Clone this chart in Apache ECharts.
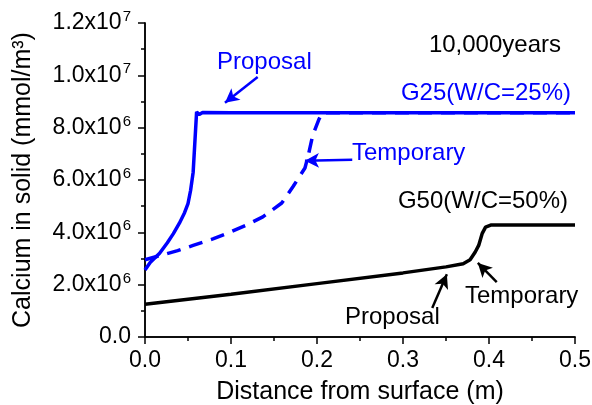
<!DOCTYPE html>
<html>
<head>
<meta charset="utf-8">
<script src="https://cdn.jsdelivr.net/npm/echarts@6/dist/echarts.min.js"></script>
<style>
  html, body { margin: 0; padding: 0; background: #fff; }
  #chart { width: 592px; height: 405px; }
</style>
</head>
<body>
<div id="chart"></div>
<script>
// distance (m), calcium in solid (mmol/m3)
var g25ProposalX = [0, 0.006, 0.017, 0.026, 0.033, 0.04, 0.046, 0.05, 0.053, 0.056, 0.06, 0.063, 0.067, 0.1, 0.3, 0.5];
var g25ProposalY = [2.56e6, 2.85e6, 3.2e6, 3.6e6, 3.95e6, 4.35e6, 4.75e6, 5.1e6, 5.6e6, 6.3e6, 8.6e6, 8.5e6, 8.58e6, 8.57e6, 8.57e6, 8.57e6];

var g25TempX = [0, 0.038, 0.056, 0.079, 0.097, 0.118, 0.137, 0.159, 0.172, 0.186, 0.19, 0.195, 0.202, 0.206, 0.3, 0.5];
var g25TempY = [2.95e6, 3.3e6, 3.5e6, 3.75e6, 3.98e6, 4.28e6, 4.59e6, 5.12e6, 5.74e6, 6.46e6, 6.96e6, 7.7e6, 8.3e6, 8.57e6, 8.57e6, 8.57e6];

var g50X = [0, 0.1, 0.2, 0.3, 0.35, 0.37, 0.378, 0.384, 0.388, 0.392, 0.396, 0.402, 0.42, 0.5];
var g50Y = [1.25e6, 1.63e6, 2.04e6, 2.45e6, 2.68e6, 2.8e6, 2.95e6, 3.25e6, 3.5e6, 3.95e6, 4.2e6, 4.28e6, 4.28e6, 4.28e6];

var yTicks = ['0.0', '2.0x10{s|6}', '4.0x10{s|6}', '6.0x10{s|6}', '8.0x10{s|6}', '1.0x10{s|7}', '1.2x10{s|7}'];
var xTicks = ['0.0', '0.1', '0.2', '0.3', '0.4', '0.5'];

function pairs(xs, ys) {
  return xs.map(function (x, i) { return [x, ys[i]]; });
}

var FONT = 'Arial, "Liberation Sans", sans-serif';
var BLUE = '#0000ff';

var chart = echarts.init(document.getElementById('chart'));

var option = {
  backgroundColor: '#fff',
  animation: false,
  grid: { left: 145, right: 17, top: 23, bottom: 68, containLabel: false, outerBoundsMode: 'none' },
  xAxis: [{
    type: 'value', min: 0, max: 0.5, interval: 0.1,
    name: 'Distance from surface (m)', nameLocation: 'middle', nameGap: 43,
    nameTextStyle: { fontFamily: FONT, fontSize: 25, color: '#000' },
    axisLine: { lineStyle: { color: '#000', width: 1.5 } },
    axisTick: { inside: false, length: 7, lineStyle: { color: '#000', width: 1.5 } },
    minorTick: { show: true, splitNumber: 2, length: 4, lineStyle: { color: '#000', width: 1.5 } },
    splitLine: { show: false },
    axisLabel: {
      margin: 12, fontFamily: FONT, fontSize: 23, color: '#000',
      formatter: function (v) { return xTicks[Math.round(v * 10)]; }
    }
  }, {
    type: 'value', min: 0, max: 0.5, interval: 0.1, position: 'top',
    axisLine: { show: true, lineStyle: { color: '#000', width: 1.5 } },
    axisTick: { inside: true, length: 7, lineStyle: { color: '#000', width: 1.5 } },
    minorTick: { show: true, splitNumber: 2, length: 4, lineStyle: { color: '#000', width: 1.5 } },
    splitLine: { show: false },
    axisLabel: { show: false }
  }],
  yAxis: [{
    type: 'value', min: 0, max: 1.2e7, interval: 2e6,
    name: 'Calcium in solid (mmol/m\u00b3)', nameLocation: 'middle', nameGap: 109,
    nameTextStyle: { fontFamily: FONT, fontSize: 25, color: '#000' },
    axisLine: { lineStyle: { color: '#000', width: 1.5 } },
    axisTick: { inside: false, length: 7, lineStyle: { color: '#000', width: 1.5 } },
    minorTick: { show: true, splitNumber: 2, length: 4, lineStyle: { color: '#000', width: 1.5 } },
    splitLine: { show: false },
    axisLabel: {
      margin: 14, fontFamily: FONT, fontSize: 23, color: '#000',
      formatter: function (v) { return yTicks[Math.round(v / 2e6)]; },
      rich: {
        s: { fontFamily: FONT, fontSize: 15, color: '#000', verticalAlign: 'top', padding: [0, 0, 12, 1] }
      }
    }
  }, {
    type: 'value', min: 0, max: 1.2e7, interval: 2e6, position: 'right',
    axisLine: { show: true, lineStyle: { color: '#000', width: 1.5 } },
    axisTick: { inside: true, length: 7, lineStyle: { color: '#000', width: 1.5 } },
    minorTick: { show: true, splitNumber: 2, length: 4, lineStyle: { color: '#000', width: 1.5 } },
    splitLine: { show: false },
    axisLabel: { show: false }
  }],
  series: [{
    name: 'G25 Temporary', type: 'line', showSymbol: false,
    data: pairs(g25TempX, g25TempY),
    lineStyle: { color: BLUE, width: 3.5, type: [14, 9] },
    markLine: {
      silent: true, symbol: ['none', 'arrow'], symbolSize: [11, 14],
      label: { show: false },
      lineStyle: { color: BLUE, width: 2.5, type: 'solid' },
      data: [
        [{ coord: [0.131, 9.94e6] }, { coord: [0.093, 8.95e6] }],
        [{ coord: [0.241, 6.77e6] }, { coord: [0.186, 6.74e6] }]
      ]
    }
  }, {
    name: 'G25 Proposal', type: 'line', showSymbol: false,
    data: pairs(g25ProposalX, g25ProposalY),
    lineStyle: { color: BLUE, width: 3.5 }
  }, {
    name: 'G50', type: 'line', showSymbol: false,
    data: pairs(g50X, g50Y),
    lineStyle: { color: '#000', width: 3.5 },
    markLine: {
      silent: true, symbol: ['none', 'arrow'], symbolSize: [11, 14],
      label: { show: false },
      lineStyle: { color: '#000', width: 2.5, type: 'solid' },
      data: [
        [{ coord: [0.409, 2.10e6] }, { coord: [0.387, 2.83e6] }],
        [{ coord: [0.334, 1.11e6] }, { coord: [0.351, 2.40e6] }]
      ]
    }
  }],
  graphic: [
    { type: 'text', x: 217, y: 62, style: { text: 'Proposal', fill: BLUE, font: '24px ' + FONT, align: 'left', verticalAlign: 'middle' } },
    { type: 'text', x: 561, y: 45, style: { text: '10,000years', fill: '#000', font: '24px ' + FONT, align: 'right', verticalAlign: 'middle' } },
    { type: 'text', x: 571, y: 93, style: { text: 'G25(W/C=25%)', fill: BLUE, font: '24px ' + FONT, align: 'right', verticalAlign: 'middle' } },
    { type: 'text', x: 352, y: 153, style: { text: 'Temporary', fill: BLUE, font: '24px ' + FONT, align: 'left', verticalAlign: 'middle' } },
    { type: 'text', x: 568, y: 201, style: { text: 'G50(W/C=50%)', fill: '#000', font: '24px ' + FONT, align: 'right', verticalAlign: 'middle' } },
    { type: 'text', x: 465, y: 296, style: { text: 'Temporary', fill: '#000', font: '24px ' + FONT, align: 'left', verticalAlign: 'middle' } },
    { type: 'text', x: 345, y: 317, style: { text: 'Proposal', fill: '#000', font: '24px ' + FONT, align: 'left', verticalAlign: 'middle' } }
  ]
};

chart.setOption(option);
</script>
</body>
</html>
